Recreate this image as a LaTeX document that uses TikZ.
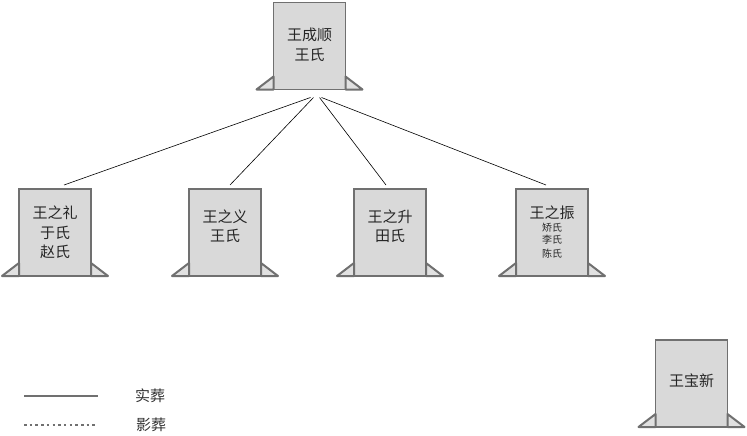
\documentclass[tikz,border=0pt]{standalone}
\usepackage{fontspec}
\setmainfont{Noto Sans CJK SC}
\definecolor{stoneedge}{HTML}{707070}
\definecolor{stonefill}{HTML}{D9D9D9}
\newcommand{\smallname}[1]{{\fontsize{10}{12}\selectfont #1}}
\tikzset{
  stone/.style={draw=stoneedge,line width=1.5pt,fill=stonefill,minimum width=72pt,minimum height=87pt,
    inner sep=0pt,outer sep=0pt,align=center,text=black!85,font=\fontsize{15}{19.5}\selectfont},
  foot/.style={draw=stoneedge,line width=2pt,fill=stonefill!80!white,line join=round},
  tie/.style={draw=black,line width=0.6pt},
  legend/.style={text=black!80,font=\fontsize{15}{17}\selectfont}
}
\begin{document}
\begin{tikzpicture}[x=1pt,y=-1pt]
\useasboundingbox (0,0) rectangle (747,436);
% tegn stene
\node[stone] (wcs) at (309.5,46) {王成顺\\王氏\\[-15.5pt]\mbox{}};
\node[stone] (wzl) at (55,232.5) {王之礼\\于氏\\赵氏};
\node[stone] (wzy) at (225,232.5) {王之义\\王氏\\[-5.5pt]\mbox{}};
\node[stone] (wzs) at (390,232.5) {王之升\\田氏\\[-5.5pt]\mbox{}};
\node[stone] (wzz) at (552,232.5) {王之振\\[-7pt]\smallname{矫氏}\\[-7.5pt]\smallname{李氏}\\[-5pt]\smallname{陈氏}};
\node[stone] (wbx) at (691.5,383.5) {王宝新\\[-12pt]\mbox{}};
% tegn fødder
\foreach \n in {wcs,wzl,wzy,wzs,wzz,wbx} {
  \draw[foot] ([yshift=13pt]\n.south west) -- ([xshift=-17pt]\n.south west) -- (\n.south west) -- cycle;
  \draw[foot] ([yshift=13pt]\n.south east) -- ([xshift=17pt]\n.south east) -- (\n.south east) -- cycle;
}
% tegn linier
\draw[tie] ([xshift=1pt,yshift=-8pt]wcs.south) -- ([xshift=9pt,yshift=4pt]wzl.north);
\draw[tie] ([xshift=4pt,yshift=-8pt]wcs.south) -- ([xshift=5pt,yshift=4pt]wzy.north);
\draw[tie] ([xshift=10pt,yshift=-8pt]wcs.south) -- ([xshift=-4pt,yshift=4pt]wzs.north);
\draw[tie] ([xshift=12pt,yshift=-8pt]wcs.south) -- ([xshift=-6pt,yshift=4pt]wzz.north);
% tegnforklaring
\coordinate (solidl) at (24,396);
\coordinate (solidr) at (98,396);
\coordinate (dotl) at (24,425);
\coordinate (dotr) at (98,425);
\draw[stoneedge,line width=2pt] (solidl) -- (solidr);
\draw[stoneedge,line width=2pt,dash pattern=on 2.5pt off 3.2pt] (dotl) -- (dotr);
\node[legend] (real) at (150,396) {实葬};
\node[legend] (shadow) at (151,425) {影葬};
\end{tikzpicture}
\end{document}
